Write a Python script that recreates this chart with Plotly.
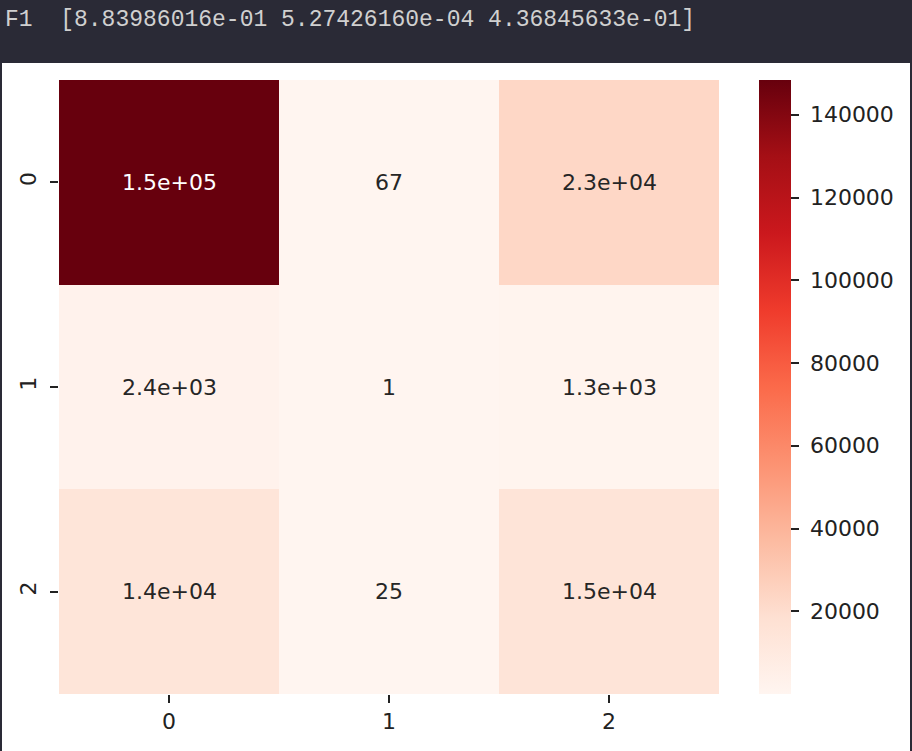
import plotly.graph_objects as go
import plotly.colors as pc

# ---- data ----
categories = ["0", "1", "2"]
row_labels = ["0", "1", "2"]
row0 = [148400, 67, 23000]
row1 = [2400, 1, 1300]
row2 = [14000, 25, 15000]
cbar_ticks = [20000, 40000, 60000, 80000, 100000, 120000, 140000]
header_text = "F1  [8.83986016e-01 5.27426160e-04 4.36845633e-01]"

z = [row0, row1, row2]
zmin = min(min(r) for r in z)
zmax = max(max(r) for r in z)

reds = pc.sequential.Reds
colorscale = [[i / (len(reds) - 1), c] for i, c in enumerate(reds)]

W, H = 912, 751
L, R, T, B = 59, 193, 80, 57
pw, ph = W - L - R, H - T - B
DARK = "#2a2a36"

def px_x(p):
    return (p - L) / pw

def px_y(p):
    return (H - B - p) / ph

fig = go.Figure()
fig.add_trace(go.Heatmap(
    z=z, x=categories, y=row_labels,
    colorscale=colorscale, zmin=zmin, zmax=zmax,
    showscale=True, hoverinfo="skip",
    colorbar=dict(
        x=px_x(759), xanchor="left", xref="paper",
        y=0.5, yanchor="middle",
        thickness=32, thicknessmode="pixels",
        len=ph, lenmode="pixels",
        outlinewidth=0, xpad=0, ypad=0,
        tickvals=cbar_ticks, ticktext=["&nbsp;" + str(v) for v in cbar_ticks],
        ticks="outside", ticklen=8, tickwidth=1.5, tickcolor="#222222",
        tickfont=dict(family="DejaVu Sans", size=22, color="#222222"),
    ),
))

annotations = []
for i, r in enumerate(z):
    for j, v in enumerate(r):
        annotations.append(dict(
            x=categories[j], y=row_labels[i], xref="x", yref="y",
            text=format(v, ".2g"), showarrow=False,
            font=dict(family="DejaVu Sans", size=22,
                      color="#ffffff" if v / zmax > 0.6 else "#262626"),
        ))
annotations.append(dict(
    x=px_x(3), y=px_y(20), xref="paper", yref="paper",
    xanchor="left", yanchor="middle", text=header_text, showarrow=False,
    font=dict(family="Liberation Mono", size=23, color="#d0d0d0"),
))

fig.update_layout(
    width=W, height=H,
    margin=dict(l=L, r=R, t=T, b=B, pad=0, autoexpand=False),
    paper_bgcolor=DARK,
    plot_bgcolor="#ffffff",
    annotations=annotations,
    shapes=[dict(type="rect", xref="paper", yref="paper", layer="below",
                 x0=px_x(2), x1=px_x(910), y0=px_y(751) - 0.1, y1=px_y(63),
                 fillcolor="#ffffff", line=dict(width=0))],
    xaxis=dict(showgrid=False, zeroline=False, showline=False, automargin=False,
               ticks="outside", ticklen=8, tickwidth=1.5, tickcolor="#222222",
               tickfont=dict(family="DejaVu Sans", size=22, color="#222222")),
    yaxis=dict(showgrid=False, zeroline=False, showline=False, automargin=False,
               autorange="reversed", tickangle=-90, ticklabelstandoff=5,
               ticks="outside", ticklen=8, tickwidth=1.5, tickcolor="#222222",
               tickfont=dict(family="DejaVu Sans", size=22, color="#222222")),
)

fig.write_html(
    "out.html",
    config={"displayModeBar": False},
    post_script="document.body.style.margin='0';document.body.style.overflow='hidden';"
                "document.body.style.background='" + DARK + "';",
)
